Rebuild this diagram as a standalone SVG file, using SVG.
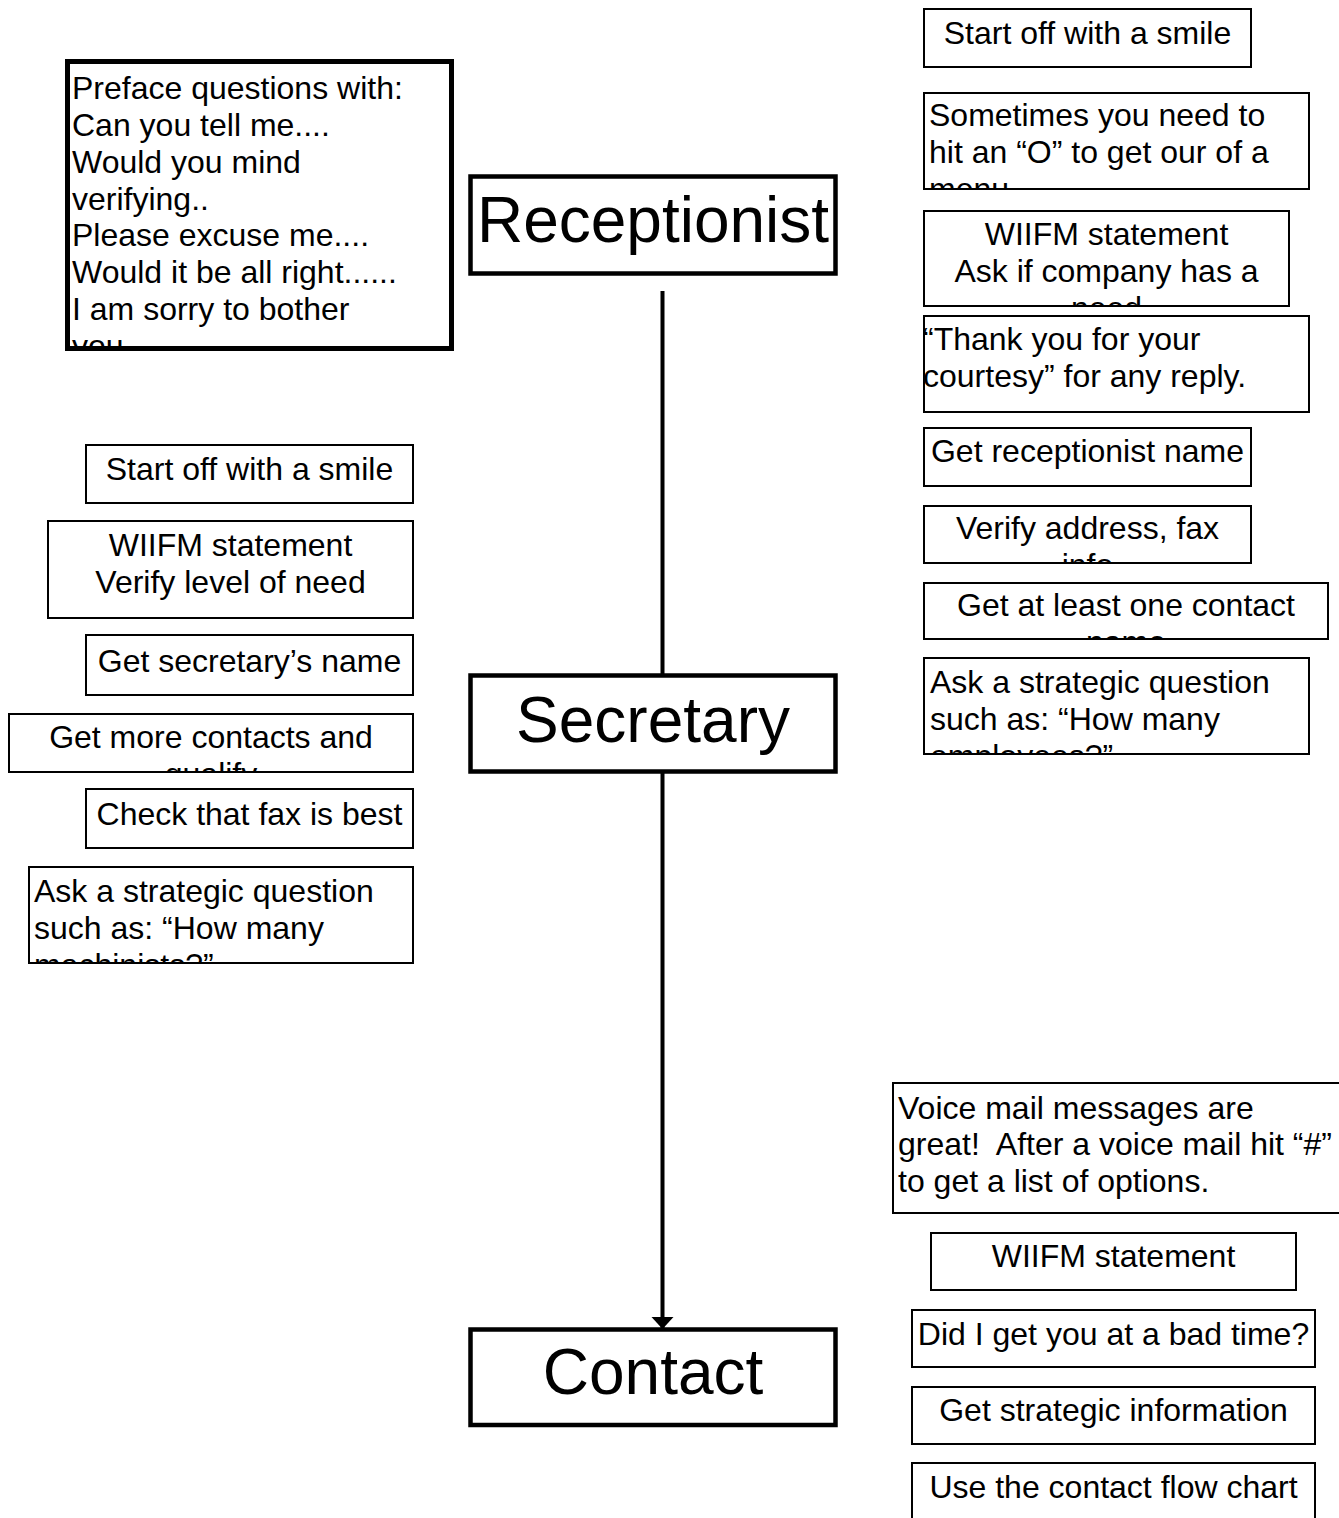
<svg xmlns="http://www.w3.org/2000/svg" width="1339" height="1518" viewBox="0 0 1339 1518">
  <style>
    text { font-family: "Liberation Sans", Arial, sans-serif; fill: #000; }
    .note rect { fill: #fff; stroke: #000; stroke-width: 2; }
    .note text { font-size: 32px; }
    .mid { text-anchor: middle; }
    .main rect { fill: #fff; stroke: #000; stroke-width: 4.5; }
    .main text { font-size: 64px; text-anchor: middle; }
    .thick rect { stroke-width: 5; }
    .edge { stroke: #000; stroke-width: 4; fill: none; }
  </style>
  <defs>
    <marker id="arrow" markerUnits="userSpaceOnUse" markerWidth="14" markerHeight="24" refX="12" refY="11" orient="auto" viewBox="0 0 14 24">
      <path d="M0,0 L12,11 L0,22 Z" fill="#000"/>
    </marker>
    <!-- clip regions for boxes whose last line runs past the frame -->
    <clipPath id="c-preface"><rect x="65" y="59" width="389" height="290"/></clipPath>
    <clipPath id="c-menu"><rect x="924" y="93" width="385" height="96"/></clipPath>
    <clipPath id="c-need"><rect x="924" y="211" width="365" height="95"/></clipPath>
    <clipPath id="c-info"><rect x="924" y="506" width="327" height="57"/></clipPath>
    <clipPath id="c-name"><rect x="924" y="583" width="404" height="56"/></clipPath>
    <clipPath id="c-employees"><rect x="924" y="658" width="385" height="96"/></clipPath>
    <clipPath id="c-qualify"><rect x="9" y="714" width="404" height="58"/></clipPath>
    <clipPath id="c-machinists"><rect x="29" y="867" width="384" height="96"/></clipPath>
  </defs>

  <!-- connectors between the three call stages -->
  <g id="connectors">
    <line class="edge" x1="662.5" y1="291" x2="662.5" y2="694" marker-end="url(#arrow)"/>
    <line class="edge" x1="662.5" y1="772" x2="662.5" y2="1329" marker-end="url(#arrow)"/>
  </g>

  <!-- main stages -->
  <g id="receptionist" class="main">
    <rect x="470.5" y="176.5" width="365" height="97"/>
    <text x="653" y="242">Receptionist</text>
  </g>
  <g id="secretary" class="main">
    <rect x="470.5" y="675.5" width="365" height="96"/>
    <text x="653" y="742">Secretary</text>
  </g>
  <g id="contact" class="main">
    <rect x="470.5" y="1329.5" width="365" height="95.5"/>
    <text x="653" y="1394">Contact</text>
  </g>

  <!-- question openers -->
  <g id="preface" class="note thick">
    <rect x="67.5" y="61.5" width="384" height="287"/>
    <g clip-path="url(#c-preface)">
      <text x="72" y="99">Preface questions with:</text>
      <text x="72" y="136">Can you tell me....</text>
      <text x="72" y="172.5">Would you mind</text>
      <text x="72" y="209.5">verifying..</text>
      <text x="72" y="246">Please excuse me....</text>
      <text x="72" y="283">Would it be all right......</text>
      <text x="72" y="320">I am sorry to bother</text>
      <text x="72" y="357">you</text>
    </g>
  </g>

  <!-- receptionist tips -->
  <g id="r-smile" class="note">
    <rect x="924" y="9" width="327" height="58"/>
    <text class="mid" x="1087.5" y="44">Start off with a smile</text>
  </g>
  <g id="r-menu" class="note">
    <rect x="924" y="93" width="385" height="96"/>
    <g clip-path="url(#c-menu)">
      <text x="929" y="126">Sometimes you need to</text>
      <text x="929" y="162.5">hit an “O” to get our of a</text>
      <text x="929" y="199.5">menu</text>
    </g>
  </g>
  <g id="r-wiifm" class="note">
    <rect x="924" y="211" width="365" height="95"/>
    <g clip-path="url(#c-need)">
      <text class="mid" x="1106.5" y="245">WIIFM statement</text>
      <text class="mid" x="1106.5" y="282">Ask if company has a</text>
      <text class="mid" x="1106.5" y="318.5">need</text>
    </g>
  </g>
  <g id="r-thanks" class="note">
    <rect x="924" y="316" width="385" height="96"/>
    <text x="923" y="350">“Thank you for your</text>
    <text x="923" y="387">courtesy” for any reply.</text>
  </g>
  <g id="r-name" class="note">
    <rect x="924" y="428" width="327" height="58"/>
    <text class="mid" x="1087.5" y="462">Get receptionist name</text>
  </g>
  <g id="r-address" class="note">
    <rect x="924" y="506" width="327" height="57"/>
    <g clip-path="url(#c-info)">
      <text class="mid" x="1087.5" y="539">Verify address, fax</text>
      <text class="mid" x="1087.5" y="576">info</text>
    </g>
  </g>
  <g id="r-contact" class="note">
    <rect x="924" y="583" width="404" height="56"/>
    <g clip-path="url(#c-name)">
      <text class="mid" x="1126" y="616">Get at least one contact</text>
      <text class="mid" x="1126" y="653">name</text>
    </g>
  </g>
  <g id="r-strategic" class="note">
    <rect x="924" y="658" width="385" height="96"/>
    <g clip-path="url(#c-employees)">
      <text x="930" y="693">Ask a strategic question</text>
      <text x="930" y="730">such as: “How many</text>
      <text x="930" y="767">employees?”</text>
    </g>
  </g>

  <!-- secretary tips -->
  <g id="s-smile" class="note">
    <rect x="86" y="445" width="327" height="58"/>
    <text class="mid" x="249.5" y="480">Start off with a smile</text>
  </g>
  <g id="s-wiifm" class="note">
    <rect x="48" y="521" width="365" height="97"/>
    <text class="mid" x="230.5" y="556">WIIFM statement</text>
    <text class="mid" x="230.5" y="593">Verify level of need</text>
  </g>
  <g id="s-name" class="note">
    <rect x="86" y="635" width="327" height="60"/>
    <text class="mid" x="249.5" y="672">Get secretary’s name</text>
  </g>
  <g id="s-contacts" class="note">
    <rect x="9" y="714" width="404" height="58"/>
    <g clip-path="url(#c-qualify)">
      <text class="mid" x="211" y="748">Get more contacts and</text>
      <text class="mid" x="211" y="785">qualify</text>
    </g>
  </g>
  <g id="s-fax" class="note">
    <rect x="86" y="789" width="327" height="59"/>
    <text class="mid" x="249.5" y="825">Check that fax is best</text>
  </g>
  <g id="s-strategic" class="note">
    <rect x="29" y="867" width="384" height="96"/>
    <g clip-path="url(#c-machinists)">
      <text x="34" y="902">Ask a strategic question</text>
      <text x="34" y="939">such as: “How many</text>
      <text x="34" y="976">machinists?”</text>
    </g>
  </g>

  <!-- contact tips -->
  <g id="c-voicemail" class="note">
    <rect x="893" y="1083" width="460" height="130"/>
    <text x="898" y="1119">Voice mail messages are</text>
    <text x="898" y="1155" xml:space="preserve">great!  After a voice mail hit “#”</text>
    <text x="898" y="1192">to get a list of options.</text>
  </g>
  <g id="c-wiifm" class="note">
    <rect x="931" y="1233" width="365" height="57"/>
    <text class="mid" x="1113.5" y="1267">WIIFM statement</text>
  </g>
  <g id="c-badtime" class="note">
    <rect x="912" y="1310" width="403" height="57"/>
    <text class="mid" x="1113.5" y="1345">Did I get you at a bad time?</text>
  </g>
  <g id="c-info" class="note">
    <rect x="912" y="1387" width="403" height="57"/>
    <text class="mid" x="1113.5" y="1421">Get strategic information</text>
  </g>
  <g id="c-flow" class="note">
    <rect x="912" y="1463" width="403" height="80"/>
    <text class="mid" x="1113.5" y="1498">Use the contact flow chart</text>
  </g>
</svg>
